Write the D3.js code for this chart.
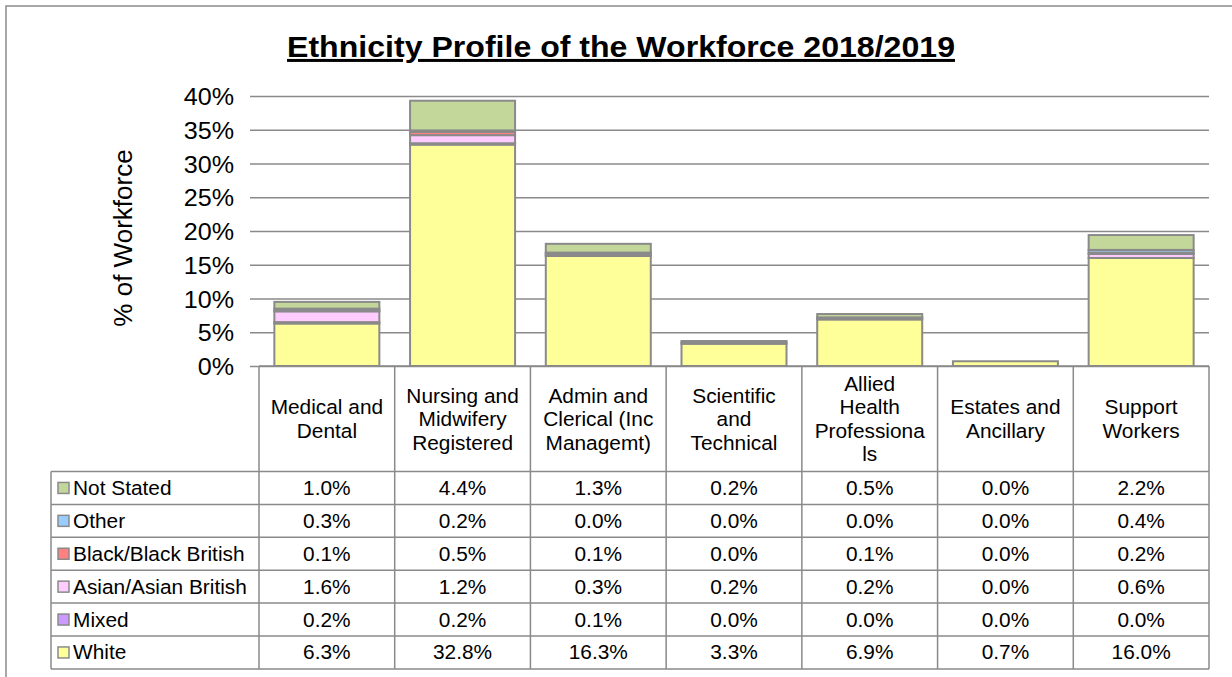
<!DOCTYPE html>
<html>
<head>
<meta charset="utf-8">
<script src="https://cdn.jsdelivr.net/npm/d3@7"></script>
<style>
  html, body { margin: 0; padding: 0; background: #fff; }
  svg { display: block; font-family: Arial, "Liberation Sans", sans-serif; }
</style>
</head>
<body>
<svg id="chart" width="1232" height="677"></svg>
<script>
// Staff groups (table header lines are split as printed under each bar)
const categories = [
  "Medical and Dental",
  "Nursing and Midwifery Registered",
  "Admin and Clerical (Inc Managemt)",
  "Scientific and Technical",
  "Allied Health Professionals",
  "Estates and Ancillary",
  "Support Workers"
];
const categoryLines = [
  ["Medical and", "Dental"],
  ["Nursing and", "Midwifery", "Registered"],
  ["Admin and", "Clerical (Inc", "Managemt)"],
  ["Scientific", "and", "Technical"],
  ["Allied", "Health", "Professiona", "ls"],
  ["Estates and", "Ancillary"],
  ["Support", "Workers"]
];

// Ethnic groups, listed top of table to bottom
const seriesNames = ["Not Stated", "Other", "Black/Black British", "Asian/Asian British", "Mixed", "White"];
const seriesColors = ["#c4d79b", "#99ccff", "#ff8080", "#ffccff", "#cc99ff", "#ffff99"];

// % of workforce per staff group
const notStated = [1.0, 4.4, 1.3, 0.2, 0.5, 0.0, 2.2];
const other     = [0.3, 0.2, 0.0, 0.0, 0.0, 0.0, 0.4];
const black     = [0.1, 0.5, 0.1, 0.0, 0.1, 0.0, 0.2];
const asian     = [1.6, 1.2, 0.3, 0.2, 0.2, 0.0, 0.6];
const mixed     = [0.2, 0.2, 0.1, 0.0, 0.0, 0.0, 0.0];
const white     = [6.3, 32.8, 16.3, 3.3, 6.9, 0.7, 16.0];
const seriesValues = [notStated, other, black, asian, mixed, white];

const yTicks = [0, 5, 10, 15, 20, 25, 30, 35, 40];

const svg = d3.select("#chart");
const GRID = "#8a8a8a";
const SX = 1.07; // horizontal widening of the lettering

function stext(parent, x, y, str, size, opts = {}) {
  return parent.append("text")
    .attr("transform", `translate(${x},${y}) scale(${SX},1)`)
    .attr("text-anchor", opts.anchor || "middle")
    .attr("font-size", size)
    .attr("font-weight", opts.weight || "normal")
    .attr("fill", "#000")
    .text(str);
}

// Outer frame
svg.append("rect")
  .attr("x", 6).attr("y", 6).attr("width", 1240).attr("height", 700)
  .attr("fill", "none").attr("stroke", GRID).attr("stroke-width", 1.5);

// Title
stext(svg, 621, 57, "Ethnicity Profile of the Workforce 2018/2019", 30, { weight: "bold" })
  .style("text-decoration", "underline");

// Scales
const plotLeft = 259, plotRight = 1209;
const x = d3.scaleBand().domain(categories).range([plotLeft, plotRight]).paddingInner(0).paddingOuter(0);
const y = d3.scaleLinear().domain([0, 40]).range([366, 96]);
const barW = 105;

// Gridlines with outside tick marks
const yAxis = d3.axisLeft(y).tickValues(yTicks).tickSize(-(plotRight - plotLeft)).tickFormat("");
const gAxis = svg.append("g").attr("transform", `translate(${plotLeft},0)`).call(yAxis);
gAxis.select(".domain").remove();
gAxis.selectAll(".tick line")
  .attr("x1", -9)
  .attr("stroke", GRID).attr("stroke-width", 1.5);

// Tick labels
yTicks.forEach(t => {
  stext(svg, 234, y(t) + 9, t + "%", 23.5, { anchor: "end" });
});

// Y axis title
svg.append("text")
  .attr("transform", `translate(132,238) rotate(-90)`)
  .attr("text-anchor", "middle")
  .attr("font-size", 26)
  .text("% of Workforce");

// Stacked bars: White at the bottom, Not Stated on top
const stackOrder = seriesNames.map((n, i) => i).reverse();
categories.forEach((cat, ci) => {
  let base = 0;
  const cx = x(cat) + x.bandwidth() / 2;
  stackOrder.forEach(si => {
    const v = seriesValues[si][ci];
    if (v <= 0) return;
    svg.append("rect")
      .attr("x", cx - barW / 2)
      .attr("y", y(base + v))
      .attr("width", barW)
      .attr("height", y(base) - y(base + v))
      .attr("fill", seriesColors[si])
      .attr("stroke", GRID)
      .attr("stroke-width", 2);
    base += v;
  });
});

// Data table
const tableLeft = 51, headTop = 366, headBottom = 471.5, rowH = 32.9;
const tableBottom = headBottom + rowH * seriesNames.length;
const tg = svg.append("g").attr("stroke", GRID).attr("stroke-width", 1.5).attr("fill", "none");

// vertical lines between staff groups
const bounds = categories.map(c => x(c)).concat([plotRight]);
bounds.forEach(bx => {
  tg.append("line").attr("x1", bx).attr("x2", bx).attr("y1", headTop).attr("y2", tableBottom);
});
tg.append("line").attr("x1", plotLeft).attr("x2", plotRight).attr("y1", headTop).attr("y2", headTop);
tg.append("line").attr("x1", tableLeft).attr("x2", tableLeft).attr("y1", headBottom).attr("y2", tableBottom);
d3.range(seriesNames.length + 1).forEach(r => {
  const ry = headBottom + r * rowH;
  tg.append("line").attr("x1", tableLeft).attr("x2", plotRight).attr("y1", ry).attr("y2", ry);
});

// Header labels
categories.forEach((cat, ci) => {
  const cx = x(cat) + x.bandwidth() / 2;
  const lines = categoryLines[ci];
  const n = lines.length;
  lines.forEach((ln, li) => {
    stext(svg, cx, 426 + (li - (n - 1) / 2) * 23.5, ln, 19.5);
  });
});

// Rows: legend key + values
seriesNames.forEach((name, si) => {
  const top = headBottom + si * rowH;
  const mid = top + rowH / 2;
  svg.append("rect")
    .attr("x", 58).attr("y", mid - 5.5).attr("width", 11).attr("height", 11)
    .attr("fill", seriesColors[si]).attr("stroke", GRID).attr("stroke-width", 1.5);
  stext(svg, 73, mid + 7, name, 19.5, { anchor: "start" });
  categories.forEach((cat, ci) => {
    const cx = x(cat) + x.bandwidth() / 2;
    stext(svg, cx, mid + 7, seriesValues[si][ci].toFixed(1) + "%", 19.5);
  });
});
</script>
</body>
</html>
